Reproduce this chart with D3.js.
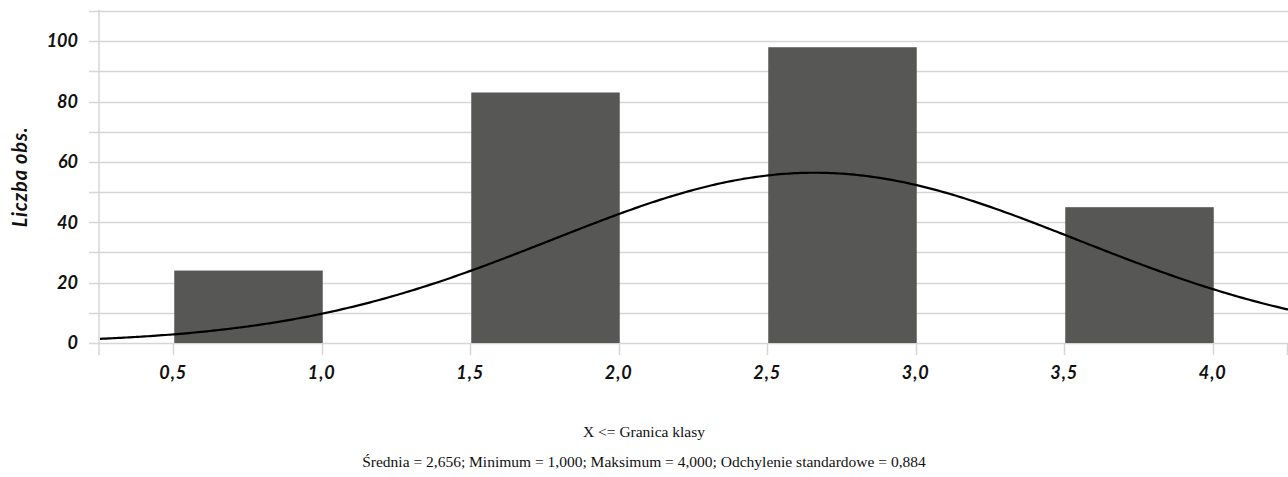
<!DOCTYPE html>
<html>
<head>
<meta charset="utf-8">
<script src="https://cdn.jsdelivr.net/npm/d3@7"></script>
<style>
  html, body { margin: 0; padding: 0; background: #fff; }
  svg { display: block; }
</style>
</head>
<body>
<svg id="chart" width="1288" height="477"></svg>
<script>
// ---- data ----
const binStarts = [0.5, 1.5, 2.5, 3.5];
const binEnds   = [1.0, 2.0, 3.0, 4.0];
const counts    = [24, 83, 98, 45];
const xTicks    = [0.5, 1.0, 1.5, 2.0, 2.5, 3.0, 3.5, 4.0];
const yLabelTicks = [0, 20, 40, 60, 80, 100];
const yGridTicks  = [0, 10, 20, 30, 40, 50, 60, 70, 80, 90, 100, 110];
// fitted normal curve parameters (from the caption)
const fitMean = 2.656, fitSd = 0.884, fitN = 250, fitBinWidth = 0.5;
const xDomain = [0.25, 4.25];
const yDomain = [0, 110];
const xTitle = "X <= Granica klasy";
const caption = "Średnia = 2,656; Minimum = 1,000; Maksimum = 4,000; Odchylenie standardowe = 0,884";
const yTitle = "Liczba obs.";

(function () {
// ---- layout ----
const svg = d3.select("#chart");
const mLeft = 100, mRight = 1288, mTop = 11, mBottom = 343;
const x = d3.scaleLinear().domain(xDomain).range([mLeft, mRight]);
const y = d3.scaleLinear().domain(yDomain).range([mBottom, mTop]);
const fmt = d => d3.format(".1f")(d).replace(".", ",");
const gridColor = "#d6d6d6";
const labelFont = "Lato, 'Open Sans', sans-serif";

// horizontal gridlines (extending left as ticks)
svg.append("g").selectAll("line").data(yGridTicks).join("line")
  .attr("x1", 89).attr("x2", mRight)
  .attr("y1", d => Math.round(y(d)) + 0.5).attr("y2", d => Math.round(y(d)) + 0.5)
  .attr("stroke", gridColor).attr("stroke-width", 1.5);

// left axis line
svg.append("line")
  .attr("x1", mLeft - 1).attr("x2", mLeft - 1)
  .attr("y1", mTop - 1).attr("y2", mBottom + 12)
  .attr("stroke", gridColor).attr("stroke-width", 1.5);

// x ticks
svg.append("g").selectAll("line").data(xTicks.concat([xDomain[1]])).join("line")
  .attr("x1", d => Math.round(x(d)) - 0.5).attr("x2", d => Math.round(x(d)) - 0.5)
  .attr("y1", mBottom).attr("y2", mBottom + 12)
  .attr("stroke", gridColor).attr("stroke-width", 1.5);

// bars
svg.append("g").selectAll("rect").data(counts).join("rect")
  .attr("x", (d, i) => x(binStarts[i]))
  .attr("width", (d, i) => x(binEnds[i]) - x(binStarts[i]))
  .attr("y", d => y(d))
  .attr("height", d => mBottom - y(d))
  .attr("fill", "#575755");

// normal curve
const scaleFactor = fitN * fitBinWidth / (fitSd * Math.sqrt(2 * Math.PI));
const curvePts = d3.range(xDomain[0], xDomain[1] + 0.001, 0.01).map(v => {
  const z = (v - fitMean) / fitSd;
  return [v, scaleFactor * Math.exp(-0.5 * z * z)];
});
svg.append("path")
  .datum(curvePts)
  .attr("d", d3.line().x(d => x(d[0])).y(d => y(d[1])).curve(d3.curveBasis))
  .attr("fill", "none").attr("stroke", "#000").attr("stroke-width", 2.2);

// y tick labels
svg.append("g").selectAll("text").data(yLabelTicks).join("text")
  .attr("x", 78).attr("y", d => y(d))
  .attr("dy", "0.35em")
  .attr("text-anchor", "end")
  .attr("font-family", labelFont).attr("font-weight", "bold").attr("font-style", "italic")
  .attr("font-size", 18).attr("fill", "#111")
  .text(d => d);

// x tick labels
svg.append("g").selectAll("text").data(xTicks).join("text")
  .attr("x", d => x(d) - 1).attr("y", 373)
  .attr("dy", "0.35em")
  .attr("text-anchor", "middle")
  .attr("font-family", labelFont).attr("font-weight", "bold").attr("font-style", "italic")
  .attr("font-size", 18).attr("fill", "#111")
  .attr("letter-spacing", 1)
  .text(d => fmt(d));

// y title
svg.append("text")
  .attr("transform", "translate(20,177) rotate(-90)")
  .attr("text-anchor", "middle").attr("dy", "0.35em")
  .attr("font-family", labelFont).attr("font-weight", "bold").attr("font-style", "italic")
  .attr("font-size", 20).attr("fill", "#111")
  .attr("letter-spacing", 0.8)
  .text(yTitle);

// x title and caption
svg.append("text")
  .attr("x", 644).attr("y", 432).attr("dy", "0.35em")
  .attr("text-anchor", "middle")
  .attr("font-family", "'Liberation Serif', serif").attr("font-size", 15.5).attr("fill", "#111")
  .text(xTitle);
svg.append("text")
  .attr("x", 644).attr("y", 462).attr("dy", "0.35em")
  .attr("text-anchor", "middle")
  .attr("font-family", "'Liberation Serif', serif").attr("font-size", 15.5).attr("fill", "#111")
  .text(caption);
})();
</script>
</body>
</html>
